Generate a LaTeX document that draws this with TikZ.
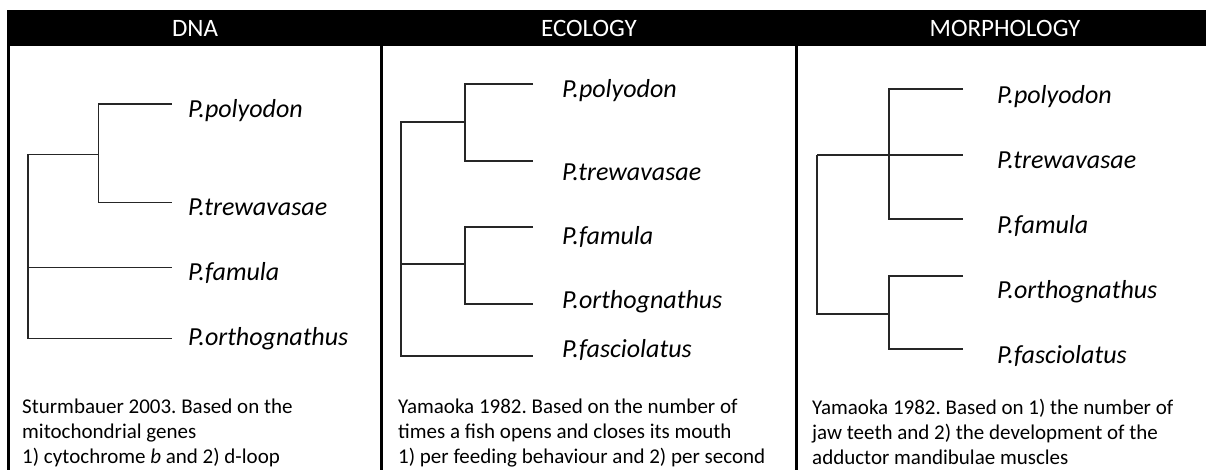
\documentclass[tikz,border=0pt]{standalone}
\usepackage{fontspec}
\setmainfont{Carlito}
\frenchspacing
\definecolor{branch}{HTML}{262626}

\begin{document}
\begin{tikzpicture}[
  x=1pt, y=-1pt,
  edge/.style={branch, line width=1.5pt},
  rule/.style={line width=2.5pt},
  head/.style={font=\fontsize{25}{30}\selectfont, text=white, anchor=base, inner sep=0pt},
  taxon/.style={font=\fontsize{26}{30}\selectfont\itshape, anchor=base west, inner sep=0pt},
  note/.style={font=\fontsize{21}{25.3}\selectfont, align=left, anchor=north west, inner sep=0pt},
]
\useasboundingbox (0,0) rectangle (1206,469);

% ── the header bar and the column rules ───────────────────────────────────
\fill (7,10) rectangle (1206,45.5);
\foreach \x in {8.3,381.5,796.5} { \draw[rule] (\x,45) -- (\x,470); }
\node[head] (hdr-dna) at (195,36.5) {DNA};
\node[head] (hdr-eco) at (589,36.5) {ECOLOGY};
\node[head] (hdr-mor) at (1005,36.5) {MORPHOLOGY};

% ── DNA tree ──────────────────────────────────────────────────────────────
\coordinate (d-root) at (28,154.3);
\coordinate (d-in) at (98.7,154.3);
\coordinate (d-1) at (171.7,104);
\coordinate (d-2) at (171.7,202.3);
\coordinate (d-3) at (171.7,267.3);
\coordinate (d-4) at (171.7,338.3);
\draw[edge] (d-1) -| (d-in) |- (d-2);
\draw[edge] (d-in) -- (d-root) |- (d-4);
\draw[edge] (d-root |- d-3) -- (d-3);
\node[taxon] (d-poly) at (188,117) {P.polyodon};
\node[taxon] (d-trew) at (188,215.5) {P.trewavasae};
\node[taxon] (d-famu) at (188,280) {P.famula};
\node[taxon] (d-orth) at (188,345.5) {P.orthognathus};

% ── ECOLOGY tree ──────────────────────────────────────────────────────────
\coordinate (e-root) at (401,122);
\coordinate (e-a) at (465,122);
\coordinate (e-b) at (465,264);
\coordinate (e-1) at (533,84);
\coordinate (e-2) at (533,161);
\coordinate (e-3) at (533,227);
\coordinate (e-4) at (533,304);
\coordinate (e-5) at (533,356);
\draw[edge] (e-1) -| (e-a) |- (e-2);
\draw[edge] (e-3) -| (e-b) |- (e-4);
\draw[edge] (e-a) -- (e-root) |- (e-5);
\draw[edge] (e-b) -- (e-root |- e-b);
\node[taxon] (e-poly) at (562,97) {P.polyodon};
\node[taxon] (e-trew) at (562,180) {P.trewavasae};
\node[taxon] (e-famu) at (562,244) {P.famula};
\node[taxon] (e-orth) at (562,308) {P.orthognathus};
\node[taxon] (e-fasc) at (562,357) {P.fasciolatus};

% ── MORPHOLOGY tree, polyodon/trewavasae/famula unresolved ────────────────
\coordinate (m-root) at (817,155);
\coordinate (m-a) at (889,155);
\coordinate (m-b) at (889,314);
\coordinate (m-1) at (963,89);
\coordinate (m-2) at (963,155);
\coordinate (m-3) at (963,219);
\coordinate (m-4) at (963,276);
\coordinate (m-5) at (963,349);
\draw[edge] (m-1) -| (m-a) |- (m-3);
\draw[edge] (m-root) -- (m-2);
\draw[edge] (m-4) -| (m-b) |- (m-5);
\draw[edge] (m-b) -- (m-root |- m-b) -- (m-root);
\node[taxon] (m-poly) at (997,103) {P.polyodon};
\node[taxon] (m-trew) at (997,168) {P.trewavasae};
\node[taxon] (m-famu) at (997,233) {P.famula};
\node[taxon] (m-orth) at (997,298) {P.orthognathus};
\node[taxon] (m-fasc) at (997,363) {P.fasciolatus};

% ── sources ───────────────────────────────────────────────────────────────
\node[note] (d-src) at (22,398.5) {Sturmbauer 2003. Based on the\\mitochondrial genes\\1) cytochrome \emph{b} and 2) d-loop};
\node[note] (e-src) at (398,398.5) {Yamaoka 1982. Based on the number of\\times a fish opens and closes its mouth\\1) per feeding behaviour and 2) per second};
\node[note] (m-src) at (812,398.5) {Yamaoka 1982. Based on 1) the number of\\jaw teeth and 2) the development of the\\adductor mandibulae muscles};

\end{tikzpicture}
\end{document}
